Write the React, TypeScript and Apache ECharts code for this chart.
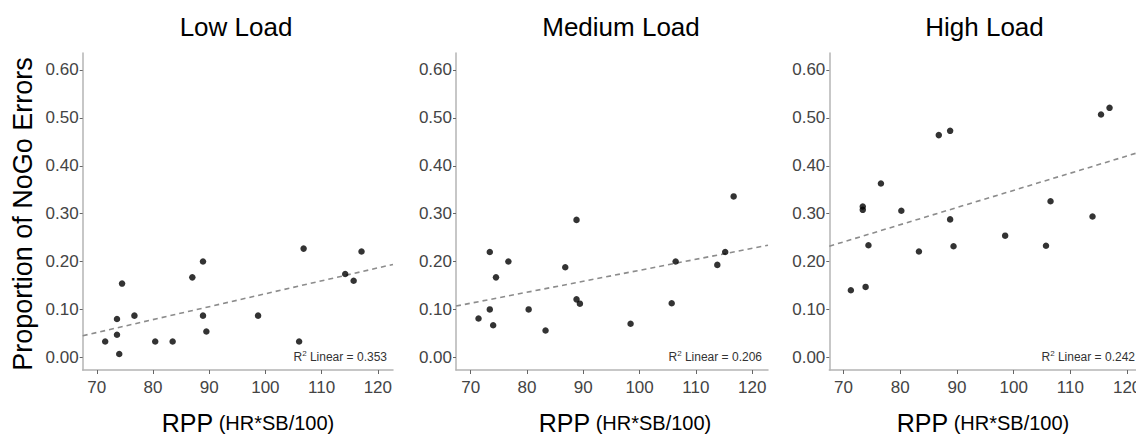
import React, { useEffect, useRef } from "react";
import * as echarts from "echarts";

// ---- data ----
const panelTitles = ["Low Load", "Medium Load", "High Load"];
const r2Values = ["0.353", "0.206", "0.242"];
const yTickValues = [0, 0.1, 0.2, 0.3, 0.4, 0.5, 0.6];
const xTickValues = [70, 80, 90, 100, 110, 120];

const lowX = [71.5, 73.6, 73.6, 74.0, 74.5, 76.7, 80.4, 83.5, 87.0, 88.9, 88.9, 89.5, 98.7, 106.0, 106.8, 114.2, 115.7, 117.1];
const lowY = [0.033, 0.080, 0.047, 0.007, 0.154, 0.087, 0.033, 0.033, 0.167, 0.200, 0.087, 0.054, 0.087, 0.033, 0.227, 0.174, 0.160, 0.221];

const medX = [71.4, 73.4, 73.4, 74.0, 74.5, 76.7, 80.3, 83.3, 86.8, 88.8, 88.8, 89.4, 98.4, 105.7, 106.4, 113.8, 115.2, 116.7];
const medY = [0.081, 0.220, 0.100, 0.067, 0.167, 0.200, 0.100, 0.056, 0.188, 0.287, 0.121, 0.112, 0.070, 0.113, 0.200, 0.193, 0.220, 0.336];

const highX = [71.3, 73.4, 73.4, 73.9, 74.4, 76.6, 80.2, 83.3, 86.8, 88.8, 88.8, 89.4, 98.5, 105.7, 106.5, 113.9, 115.4, 116.9];
const highY = [0.140, 0.315, 0.308, 0.147, 0.234, 0.363, 0.306, 0.221, 0.464, 0.473, 0.288, 0.232, 0.254, 0.233, 0.326, 0.294, 0.507, 0.521];

// fitted (linear) line end points
const fitLow = [[67.5, 0.045], [122.7, 0.194]];
const fitMed = [[67.4, 0.107], [122.8, 0.234]];
const fitHigh = [[67.5, 0.232], [122.5, 0.4295]];

const xRanges = [[67.5, 122.7], [67.4, 122.8], [67.5, 122.5]];
const yRange = [-0.0265, 0.6355];

// ---- layout ----
const CHART_W = 1150;
const CHART_H = 436;
const grids = [
  { left: 82.7, width: 310.3 },
  { left: 456, width: 312 },
  { left: 829.3, width: 312 },
];
const titleCenters = [236, 621, 984.5];
const xTitleCenters = [248, 625, 983];
const r2Right = [387, 762, 1135];

const TICK_FONT = "'Liberation Sans Narrow', 'Arial Narrow', 'Liberation Sans', Arial, sans-serif";
const MAIN_FONT = "'Liberation Sans', Arial, sans-serif";

function pairs(xs: number[], ys: number[]) {
  return xs.map((x, i) => [x, ys[i]]);
}

export default function App() {
  const ref = useRef<HTMLDivElement>(null);

  useEffect(() => {
    if (!ref.current) return;
    const chart = echarts.init(ref.current, undefined, { renderer: "svg" });

    const scatterData = [pairs(lowX, lowY), pairs(medX, medY), pairs(highX, highY)];
    const fits = [fitLow, fitMed, fitHigh];

    const axisLineColor = "#b4b4b4";
    const labelColor = "#444";

    const option: any = {
      animation: false,
      backgroundColor: "#fff",
      grid: grids.map((g) => ({
        left: g.left,
        width: g.width,
        top: 53,
        height: 317,
        containLabel: false,
      })),
      xAxis: grids.map((_, i) => ({
        type: "value",
        gridIndex: i,
        min: xRanges[i][0],
        max: xRanges[i][1],
        splitLine: { show: false },
        axisLine: { show: true, onZero: false, lineStyle: { color: axisLineColor, width: 1.5 } },
        axisTick: {
          show: true,
          customValues: xTickValues,
          length: 4,
          lineStyle: { color: "#666", width: 1 },
        },
        axisLabel: {
          customValues: xTickValues,
          margin: 9,
          color: labelColor,
          fontSize: 17,
          fontFamily: TICK_FONT,
          formatter: (v: number) => String(Math.round(v)),
        },
      })),
      yAxis: grids.map((_, i) => ({
        type: "value",
        gridIndex: i,
        min: yRange[0],
        max: yRange[1],
        splitLine: { show: false },
        axisLine: { show: true, onZero: false, lineStyle: { color: axisLineColor, width: 1.5 } },
        axisTick: {
          show: true,
          customValues: yTickValues,
          length: 3,
          lineStyle: { color: "#666", width: 1 },
        },
        axisLabel: {
          customValues: yTickValues,
          margin: 4,
          color: labelColor,
          fontSize: 17,
          fontFamily: TICK_FONT,
          formatter: (v: number) => v.toFixed(2),
        },
      })),
      series: [
        ...fits.map((f, i) => ({
          type: "line",
          xAxisIndex: i,
          yAxisIndex: i,
          data: f,
          symbol: "none",
          silent: true,
          lineStyle: { color: "#8c8c8c", width: 1.6, type: [5, 4] },
          z: 1,
        })),
        ...scatterData.map((d, i) => ({
          type: "scatter",
          xAxisIndex: i,
          yAxisIndex: i,
          data: d,
          symbol: "circle",
          symbolSize: 6.5,
          itemStyle: { color: "#000" },
          z: 3,
        })),
      ],
      graphic: [
        ...panelTitles.map((t, i) => ({
          type: "text",
          x: titleCenters[i],
          y: 27,
          style: {
            text: t,
            fontSize: 26,
            fontFamily: MAIN_FONT,
            fill: "#000",
            textAlign: "center",
            textVerticalAlign: "middle",
          },
        })),
        ...xTitleCenters.map((cx) => ({
          type: "text",
          x: cx,
          y: 423,
          style: {
            text: "{a|RPP}{b| (HR*SB/100)}",
            textAlign: "center",
            textVerticalAlign: "middle",
            rich: {
              a: { fontSize: 25, fontFamily: MAIN_FONT, fill: "#000", color: "#000" },
              b: { fontSize: 20, fontFamily: MAIN_FONT, fill: "#000", color: "#000" },
            },
          },
        })),
        ...r2Values.map((r, i) => ({
          type: "text",
          x: r2Right[i],
          y: 357,
          style: {
            text: "{a|R}{s|2}{a| Linear = " + r + "}",
            textAlign: "right",
            textVerticalAlign: "middle",
            rich: {
              a: { fontSize: 12, fontFamily: TICK_FONT, fill: "#333", color: "#333" },
              s: { fontSize: 8, fontFamily: TICK_FONT, fill: "#333", color: "#333", padding: [0, 0, 7, 0] },
            },
          },
        })),
        {
          type: "text",
          x: 23,
          y: 214,
          rotation: Math.PI / 2,
          style: {
            text: "Proportion of NoGo Errors",
            fontSize: 27,
            fontFamily: MAIN_FONT,
            fill: "#000",
            textAlign: "center",
            textVerticalAlign: "middle",
          },
        },
      ],
    };

    chart.setOption(option);
    return () => chart.dispose();
  }, []);

  return (
    <div
      style={{
        position: "absolute",
        left: 0,
        top: 0,
        width: 1136,
        height: CHART_H,
        overflow: "hidden",
        background: "#fff",
      }}
    >
      <div ref={ref} style={{ width: CHART_W, height: CHART_H }} />
    </div>
  );
}
